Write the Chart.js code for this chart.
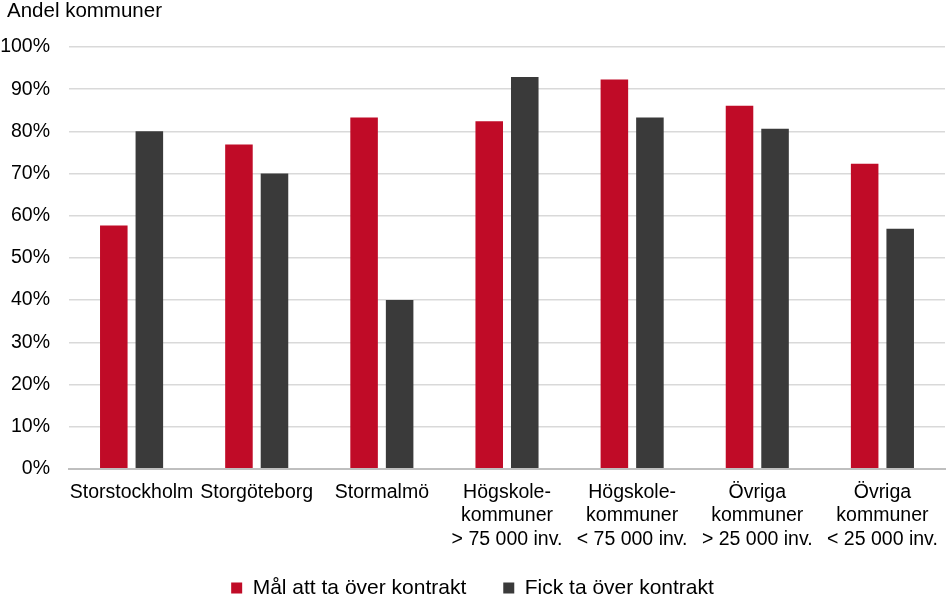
<!DOCTYPE html>
<html>
<head>
<meta charset="utf-8">
<script src="https://cdn.jsdelivr.net/npm/chart.js@4"></script>
<style>
  html, body { margin: 0; padding: 0; background: #fff; }
  #wrap { width: 946px; height: 594px; }
</style>
</head>
<body>
<div id="wrap"><canvas id="chart"></canvas></div>
<script>
const categories = [
  'Storstockholm',
  'Storgöteborg',
  'Stormalmö',
  ['Högskole-', 'kommuner', '> 75 000 inv.'],
  ['Högskole-', 'kommuner', '< 75 000 inv.'],
  ['Övriga', 'kommuner', '> 25 000 inv.'],
  ['Övriga', 'kommuner', '< 25 000 inv.']
];
const malValues = [57.7, 76.9, 83.3, 82.4, 92.3, 86.1, 72.3];
const fickValues = [80.0, 70.0, 40.0, 92.9, 83.3, 80.6, 56.9];
const seriesNames = ['Mål att ta över kontrakt', 'Fick ta över kontrakt'];
const axisTitle = 'Andel kommuner';

const fontFamily = '"Liberation Sans", Arial, sans-serif';
Chart.defaults.font.family = fontFamily;
Chart.defaults.font.size = 19.5;
Chart.defaults.color = '#000';

// y-axis title drawn top-left, above the plot
const axisTitlePlugin = {
  id: 'axisTitle',
  afterDraw(chart) {
    const c = chart.ctx;
    c.save();
    c.font = '20.5px ' + fontFamily;
    c.fillStyle = '#000';
    c.textBaseline = 'middle';
    c.textAlign = 'left';
    c.fillText(axisTitle, 7, 11);
    c.restore();
  }
};

const ctx = document.getElementById('chart').getContext('2d');

new Chart(ctx, {
  type: 'bar',
  data: {
    labels: categories,
    datasets: [
      { label: seriesNames[0], data: malValues, backgroundColor: '#c00b27' },
      { label: seriesNames[1], data: fickValues, backgroundColor: '#3a3a3a' }
    ]
  },
  options: {
    responsive: true,
    maintainAspectRatio: false,
    animation: false,
    categoryPercentage: 0.568,
    barPercentage: 0.775,
    layout: { padding: { left: 0, right: 1, top: 47, bottom: -14.5 } },
    plugins: {
      legend: {
        position: 'bottom',
        // empty title with negative padding only pulls the items up
        title: { display: true, text: '', font: { size: 10 }, padding: { top: 0, bottom: -26.5 } },
        labels: {
          boxWidth: 11,
          boxHeight: 11,
          padding: 37,
          font: { size: 21 }
        }
      },
      tooltip: { enabled: false }
    },
    scales: {
      x: {
        grid: { display: false },
        border: { color: '#bfbfbf', width: 2 },
        ticks: { maxRotation: 0, autoSkip: false, padding: 4 }
      },
      y: {
        min: 0,
        max: 100,
        border: { display: false },
        grid: { color: '#d9d9d9', lineWidth: 1.5, drawTicks: false },
        ticks: {
          stepSize: 10,
          padding: 19,
          callback: v => v + '%'
        },
        afterFit: scale => { scale.width = 69; }
      }
    }
  },
  plugins: [axisTitlePlugin]
});
</script>
</body>
</html>
